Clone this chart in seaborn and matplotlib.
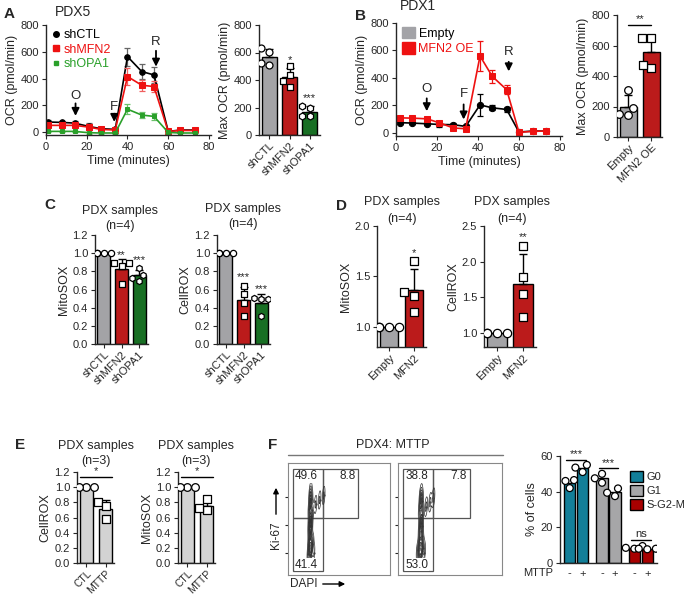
import warnings
import numpy as np
import pandas as pd
import seaborn as sns
import matplotlib.pyplot as plt
from matplotlib.lines import Line2D
from matplotlib.patches import Patch, Rectangle, FancyArrowPatch
from matplotlib.ticker import FormatStrFormatter

warnings.filterwarnings('ignore')

# ---- panel A: Seahorse OCR, PDX5 ----
time_a = [1, 8, 14, 21, 27, 34, 40, 47, 53, 60, 66, 73]
a_ctl = [75, 72, 67, 42, 25, 20, 564, 452, 427, 5, 15, 15]
a_ctl_err = [15, 12, 12, 25, 12, 8, 67, 55, 62, 5, 8, 8]
a_mfn = [50, 50, 50, 37, 20, 15, 415, 350, 340, 5, 12, 12]
a_mfn_err = [10, 10, 10, 20, 8, 6, 62, 40, 38, 4, 6, 6]
a_opa = [5, 5, 5, -5, -7, -7, 171, 127, 117, -3, -7, -7]
a_opa_err = [4, 4, 4, 6, 4, 4, 38, 22, 25, 3, 3, 3]
a_groups = ['shCTL', 'shMFN2', 'shOPA1']
a_max = [[606, 630, 509, 521], [505, 435, 390, 350], [210, 195, 140, 135]]

# ---- panel B: Seahorse OCR, PDX1 ----
time_b = [2, 8, 15, 21, 28, 34, 41, 47, 54, 60, 67, 73]
b_empty = [75, 72, 67, 62, 60, 48, 204, 183, 171, 7, 14, 14]
b_empty_err = [10, 10, 10, 15, 10, 8, 80, 17, 17, 5, 5, 5]
b_oe = [110, 108, 103, 75, 36, 31, 560, 411, 315, 5, 12, 14]
b_oe_err = [10, 10, 10, 8, 6, 6, 108, 48, 34, 4, 4, 4]
b_groups = ['Empty', 'MFN2 OE']
b_max = [[311, 193, 143, 153], [651, 651, 450, 471]]

# ---- panel C ----
c_groups = ['shCTL', 'shMFN2', 'shOPA1']
c_mitosox = [[1, 1, 1, 1], [0.89, 0.89, 0.86, 0.66], [0.836, 0.764, 0.727, 0.69]]
c_cellrox = [[1, 1, 1, 1], [0.64, 0.55, 0.45, 0.31], [0.51, 0.50, 0.49, 0.31]]

# ---- panel D ----
d_groups = ['Empty', 'MFN2']
d_mitosox = [[1, 1, 1, 1], [1.65, 1.345, 1.31, 1.15]]
d_cellrox = [[1, 1, 1, 1], [2.22, 1.78, 1.545, 1.22]]

# ---- panel E ----
e_groups = ['CTL', 'MTTP']
e_cellrox = [[1, 1, 1], [0.81, 0.755, 0.58]]
e_mitosox = [[1, 1, 1], [0.84, 0.70, 0.72]]

# ---- panel F ----
f_phases = ['G0', 'G1', 'S-G2-M']
f_treat = ['-', '+']
f_vals = {('G0', '-'): [46.5, 46, 42], ('G0', '+'): [55, 51, 53.5],
          ('G1', '-'): [50, 47.5, 45], ('G1', '+'): [41.8, 39.4, 37.5],
          ('S-G2-M', '-'): [9.5, 8, 8.5], ('S-G2-M', '+'): [7.7, 8, 8]}
f_colors = ['#137f99', '#a6a6a8', '#a80000']
# flow contour events (hand placed), gate percentages
ctl_x = [22, 22, 23, 22, 22, 21, 22, 23, 22, 22, 23, 21, 22, 22, 21, 23, 22, 23, 21, 22, 22, 21, 23, 24, 22, 21, 27, 31, 35, 24, 20, 25, 22]
ctl_y = [74, 71, 68, 65, 62, 59, 56, 53, 50, 47, 44, 41, 38, 35, 32, 29, 27, 25, 23, 21, 24, 26, 22, 28, 44, 47, 63, 67, 71, 58, 19, 20, 18]
mt_x = [22, 22, 23, 22, 21, 23, 22, 22, 21, 22, 23, 21, 22, 23, 21, 22, 22, 21, 23, 24, 22, 21, 27, 31, 34, 20, 23, 25, 19]
mt_y = [72, 69, 66, 62, 58, 54, 50, 46, 42, 39, 35, 32, 29, 26, 24, 22, 20, 18, 21, 24, 23, 27, 61, 65, 69, 19, 44, 20, 22]
ctl_pct = ['49.6', '8.8', '41.4']
mt_pct = ['38.8', '7.8', '53.0']

GRAY = '#a3a3a7'
RED = '#d60000'
GREEN = '#0a7d1a'
LGRAY = '#d3d3d3'

sns.set_style('ticks')
plt.rcParams['font.family'] = ['Liberation Sans', 'DejaVu Sans']
plt.rcParams['axes.linewidth'] = 1.0
plt.rcParams['xtick.labelsize'] = 8
plt.rcParams['ytick.labelsize'] = 8
plt.rcParams['xtick.major.size'] = 3
plt.rcParams['ytick.major.size'] = 3
plt.rcParams['xtick.major.pad'] = 2
plt.rcParams['ytick.major.pad'] = 2
plt.rcParams['axes.labelsize'] = 9
plt.rcParams['axes.labelpad'] = 2

W, H = 685, 594
fig = plt.figure(figsize=(6.85, 5.94), dpi=100)


def box(l, t, r, b):
    return fig.add_axes([l / W, 1 - b / H, (r - l) / W, (b - t) / H])


def ftext(x, y, s, **kw):
    kw.setdefault('va', 'center')
    fig.text(x / W, 1 - y / H, s, **kw)


def bar_panel(ax, groups, values, colors, markers, width=0.75, msize=5, err=True):
    df = pd.DataFrame({'g': np.repeat(groups, [len(v) for v in values]),
                       'v': np.concatenate(values)})
    sns.barplot(data=df, x='g', y='v', hue='g', order=groups, hue_order=groups,
                palette=colors, errorbar=None, edgecolor='black', linewidth=1,
                width=width, legend=False, ax=ax)
    for i, v in enumerate(values):
        s = np.std(v, ddof=1)
        if err and s > 1e-9:
            ax.errorbar(i, np.mean(v), yerr=[[0], [s]], color='black', lw=1,
                        capsize=3, capthick=1, zorder=1)
    for g, m in zip(groups, markers):
        sns.swarmplot(data=df[df.g == g], x='g', y='v', order=groups, marker=m,
                      color='white', edgecolor='black', linewidth=0.9,
                      size=msize, ax=ax)
    ax.set_xlabel('')
    ax.set_xticks(range(len(groups)))
    ax.set_xticklabels(groups, rotation=45, ha='right', rotation_mode='anchor')
    ax.tick_params(axis='x', pad=1)
    sns.despine(ax=ax)


def ocr_panel(ax, t, series, errs, colors, ecolors, markers, msizes):
    for y, e, c, ec, m, ms in zip(series, errs, colors, ecolors, markers, msizes):
        ax.errorbar(t, y, yerr=e, fmt='none', ecolor=ec, elinewidth=0.9,
                    capsize=2, capthick=0.9)
        sns.lineplot(x=t, y=y, color=c, marker=m, markersize=ms,
                     markeredgecolor=c, lw=1.2, ax=ax)
    ax.set_xlim(0, 81)
    ax.set_ylim(-22, 800)
    ax.set_xticks([0, 20, 40, 60, 80])
    ax.set_yticks([0, 200, 400, 600, 800])
    ax.set_xlabel('Time (minutes)')
    ax.set_ylabel('OCR (pmol/min)')
    sns.despine(ax=ax)


def arrow(ax, x, y0, y1, label, ty):
    ax.annotate('', xy=(x, y1), xytext=(x, y0),
                arrowprops=dict(arrowstyle='-|>', color='black', lw=1.3,
                                mutation_scale=11))
    ax.text(x, ty, label, ha='center', va='center', fontsize=9.5)


def ratio_axis(ax, top=1.2):
    ax.set_ylim(0, top)
    ax.set_yticks(np.linspace(0, top, int(round(top / 0.2)) + 1))
    ax.yaxis.set_major_formatter(FormatStrFormatter('%.1f'))


# ===== A =====
ax = box(46, 25, 211, 135)
ocr_panel(ax, time_a, [a_ctl, a_mfn, a_opa], [a_ctl_err, a_mfn_err, a_opa_err],
          ['black', '#ee1111', '#2aa02a'], ['#666666', '#f06060', '#6cc06c'],
          ['o', 's', 's'], [4, 4, 2.5])
arrow(ax, 14.5, 235, 100, 'O', 268)
arrow(ax, 33.5, 158, 55, 'F', 190)
arrow(ax, 54, 628, 468, 'R', 670)
leg = ax.legend(handles=[Line2D([], [], marker='o', color='black', ls='none', ms=4),
                         Line2D([], [], marker='s', color='#ee1111', ls='none', ms=4),
                         Line2D([], [], marker='s', color='#2aa02a', ls='none', ms=2.5)],
                labels=a_groups, loc='upper left', frameon=False, fontsize=9,
                handlelength=0.6, handletextpad=0.3, labelspacing=0.2,
                borderaxespad=0.1, bbox_to_anchor=(0.0, 1.02))
for txt, c in zip(leg.get_texts(), ['black', '#ee1111', '#2aa02a']):
    txt.set_color(c)

ax = box(259, 25, 320, 135)
bar_panel(ax, a_groups, a_max, [GRAY, RED, GREEN], ['o', 's', 'h'])
ax.set_ylim(0, 800)
ax.set_yticks([0, 200, 400, 600, 800])
ax.set_ylabel('Max OCR (pmol/min)')
ax.text(1, 520, '*', ha='center', fontsize=8)
ax.text(2, 245, '***', ha='center', fontsize=8)

ftext(4, 14, 'A', fontsize=11, fontweight='bold')
ftext(55, 12, 'PDX5', fontsize=10)

# ===== B =====
ax = box(396, 23, 562, 136)
ocr_panel(ax, time_b, [b_empty, b_oe], [b_empty_err, b_oe_err],
          ['black', '#ee1111'], ['black', '#ee1111'], ['o', 's'], [4.5, 4])
arrow(ax, 15, 272, 138, 'O', 322)
arrow(ax, 33, 228, 78, 'F', 287)
arrow(ax, 55, 538, 428, 'R', 590)
leg = ax.legend(handles=[Patch(facecolor=GRAY, edgecolor=GRAY),
                         Patch(facecolor='#ee1111', edgecolor='#ee1111')],
                labels=b_groups, loc='upper left', frameon=False, fontsize=9,
                handlelength=1.0, handleheight=1.0, handletextpad=0.3,
                labelspacing=0.2, borderaxespad=0.1, bbox_to_anchor=(0.0, 1.02))
for txt, c in zip(leg.get_texts(), ['black', '#ee1111']):
    txt.set_color(c)

ax = box(617, 15, 662, 137)
bar_panel(ax, b_groups, b_max, [GRAY, RED], ['o', 's'], msize=5.5)
ax.set_ylim(0, 800)
ax.set_yticks([0, 200, 400, 600, 800])
ax.set_ylabel('Max OCR (pmol/min)')
ax.plot([0, 1], [735, 735], color='black', lw=1)
ax.text(0.5, 738, '**', ha='center', va='bottom', fontsize=8)

ftext(355, 16, 'B', fontsize=11, fontweight='bold')
ftext(400, 6, 'PDX1', fontsize=10)

# ===== C =====
ax = box(95, 235, 148, 344)
bar_panel(ax, c_groups, c_mitosox, [GRAY, RED, GREEN], ['o', 's', 'h'], msize=4.5)
ratio_axis(ax)
ax.set_ylabel('MitoSOX')
ax.text(1, 0.95, '**', ha='center', fontsize=8)
ax.text(2, 0.89, '***', ha='center', fontsize=8)

ax = box(217, 235, 270, 344)
bar_panel(ax, c_groups, c_cellrox, [GRAY, RED, GREEN], ['o', 's', 'h'], msize=4.5)
ratio_axis(ax)
ax.set_ylabel('CellROX')
ax.text(1, 0.70, '***', ha='center', fontsize=8)
ax.text(2, 0.57, '***', ha='center', fontsize=8)

ftext(44, 205, 'C', fontsize=11, fontweight='bold')
ftext(120, 211, 'PDX samples', fontsize=9, ha='center')
ftext(120, 226, '(n=4)', fontsize=9, ha='center')
ftext(243, 209, 'PDX samples', fontsize=9, ha='center')
ftext(243, 224, '(n=4)', fontsize=9, ha='center')

# ===== D =====
ax = box(377, 226, 426, 347)
bar_panel(ax, d_groups, d_mitosox, [GRAY, RED], ['o', 's'], msize=6)
ax.set_ylim(0.8, 2.0)
ax.set_yticks([1.0, 1.5, 2.0])
ax.yaxis.set_major_formatter(FormatStrFormatter('%.1f'))
ax.set_ylabel('MitoSOX')
ax.text(1, 1.70, '*', ha='center', fontsize=8)

ax = box(484, 226, 536, 347)
bar_panel(ax, d_groups, d_cellrox, [GRAY, RED], ['o', 's'], msize=6)
ax.set_ylim(0.8, 2.5)
ax.set_yticks([1.0, 1.5, 2.0, 2.5])
ax.yaxis.set_major_formatter(FormatStrFormatter('%.1f'))
ax.set_ylabel('CellROX')
ax.text(1, 2.30, '**', ha='center', fontsize=8)

ftext(336, 206, 'D', fontsize=11, fontweight='bold')
ftext(402, 202, 'PDX samples', fontsize=9, ha='center')
ftext(402, 219, '(n=4)', fontsize=9, ha='center')
ftext(512, 202, 'PDX samples', fontsize=9, ha='center')
ftext(512, 219, '(n=4)', fontsize=9, ha='center')

# ===== E =====
for l, vals, lab in [(77, e_cellrox, 'CellROX'), (178, e_mitosox, 'MitoSOX')]:
    ax = box(l, 472, l + 37, 563)
    bar_panel(ax, e_groups, vals, [LGRAY, LGRAY], ['o', 's'], width=0.65, msize=5.5)
    ratio_axis(ax)
    ax.set_ylabel(lab)
    ax.tick_params(axis='x', labelsize=7.5)
    ax.plot([-0.35, 1.35], [1.13, 1.13], color='black', lw=1, clip_on=False)
    ax.text(0.5, 1.14, '*', ha='center', va='bottom', fontsize=8)

ftext(15, 445, 'E', fontsize=11, fontweight='bold')
ftext(96, 446, 'PDX samples', fontsize=9, ha='center')
ftext(96, 461, '(n=3)', fontsize=9, ha='center')
ftext(196, 446, 'PDX samples', fontsize=9, ha='center')
ftext(196, 461, '(n=3)', fontsize=9, ha='center')

# ===== F: flow plots =====
ftext(268, 445, 'F', fontsize=11, fontweight='bold')
ftext(393, 445, 'PDX4: MTTP', fontsize=9, ha='center')
fig.add_artist(Line2D([288 / W, 503 / W], [1 - 455 / H, 1 - 455 / H], color='#777777', lw=1))

for (l, r), fx, fy, pct in [((288, 390), ctl_x, ctl_y, ctl_pct), ((398, 502), mt_x, mt_y, mt_pct)]:
    ax = box(l, 463, r, 575)
    sns.kdeplot(x=fx, y=fy, levels=9, thresh=0.05, color='#333333',
                linewidths=0.5, bw_adjust=0.5, ax=ax)
    ax.scatter(fx, fy, s=0.5, color='#666666')
    ax.set_xlim(0, 100)
    ax.set_ylim(0, 100)
    ax.add_patch(Rectangle((5, 51), 29, 44, fill=False, ec='#555555', lw=0.9))
    ax.add_patch(Rectangle((34, 51), 35, 44, fill=False, ec='#555555', lw=0.9))
    ax.add_patch(Rectangle((5, 4), 29, 47, fill=False, ec='#555555', lw=0.9))
    ax.text(7, 88, pct[0], fontsize=8.5, va='center',
            bbox=dict(facecolor='white', edgecolor='none', pad=0.3))
    ax.text(66, 88, pct[1], fontsize=8.5, va='center', ha='right')
    ax.text(7, 9, pct[2], fontsize=8.5, va='center',
            bbox=dict(facecolor='white', edgecolor='none', pad=0.3))
    ax.set_xticks([])
    ax.set_yticks([20, 45, 70])
    ax.set_yticklabels([])
    ax.tick_params(axis='y', length=2)
    ax.set_xlabel('')
    ax.set_ylabel('')
    for sp in ax.spines.values():
        sp.set_color('#888888')
        sp.set_linewidth(0.8)

ftext(276, 535, 'Ki-67', fontsize=8.5, rotation=90, ha='center')
fig.add_artist(FancyArrowPatch((276 / W, 1 - 517 / H), (276 / W, 1 - 485 / H),
               transform=fig.transFigure, arrowstyle='-|>', mutation_scale=8, lw=1, color='black'))
ftext(304, 584, 'DAPI', fontsize=8.5, ha='center')
fig.add_artist(FancyArrowPatch((320 / W, 1 - 584 / H), (348 / W, 1 - 584 / H),
               transform=fig.transFigure, arrowstyle='-|>', mutation_scale=8, lw=1, color='black'))

# ===== F: cell cycle bars =====
rows = [(p, t, v) for p in f_phases for t in f_treat for v in f_vals[(p, t)]]
fdf = pd.DataFrame(rows, columns=['phase', 'MTTP', 'pct'])
ax = box(560, 456, 657, 563)
sns.barplot(data=fdf, x='phase', y='pct', hue='MTTP', order=f_phases, hue_order=f_treat,
            errorbar=None, edgecolor='black', linewidth=1, gap=0.12, legend=False, ax=ax)
centers = []
for p in ax.patches:
    cx = p.get_x() + p.get_width() / 2
    p.set_facecolor(f_colors[int(round(cx))])
    centers.append(cx)
sns.swarmplot(data=fdf, x='phase', y='pct', hue='MTTP', order=f_phases, hue_order=f_treat,
              dodge=True, palette=['white', 'white'], edgecolor='black', linewidth=0.9,
              size=5, legend=False, ax=ax)
centers = sorted(centers)
ax.set_xticks(centers)
ax.set_xticklabels(['-', '+'] * 3, fontsize=8)
ax.tick_params(axis='x', length=0, pad=4)
ax.set_ylim(0, 60)
ax.set_yticks([0, 20, 40, 60])
ax.set_xlim(-0.5, 2.5)
ax.set_xlabel('')
ax.set_ylabel('% of cells')
sns.despine(ax=ax)
for (a, b), y, s in [((centers[0], centers[1]), 58, '***'), ((centers[2], centers[3]), 53, '***'),
                     ((centers[4], centers[5]), 13, 'ns')]:
    ax.plot([a - 0.1, b + 0.1], [y, y], color='black', lw=1)
    ax.text((a + b) / 2, y + 0.5, s, ha='center', va='bottom', fontsize=8)
ax.legend(handles=[Patch(facecolor=c, edgecolor='black') for c in f_colors],
          labels=f_phases, loc='upper left', bbox_to_anchor=(0.68, 0.9), frameon=False,
          fontsize=8, handlelength=1.1, handleheight=1.1, handletextpad=0.35,
          labelspacing=0.25, borderaxespad=0)
ftext(538, 573, 'MTTP', fontsize=8, ha='center')

fig.savefig('out.png', dpi=100)
